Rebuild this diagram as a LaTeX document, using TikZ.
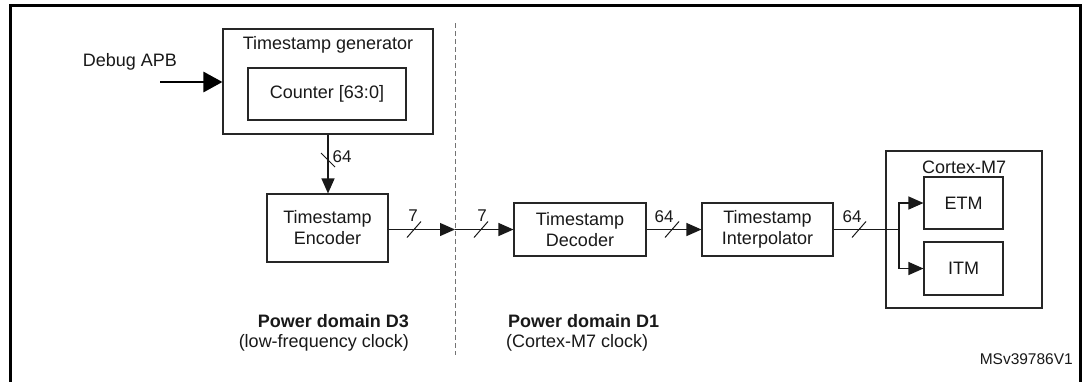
\documentclass[tikz,border=0pt]{standalone}
\usepackage{fontspec}
\setmainfont{Liberation Sans}
\usetikzlibrary{arrows.meta}
\begin{document}
\begin{tikzpicture}[x=1pt,y=-1pt,
  box/.style={draw=black!85, line width=1.1pt, inner sep=0pt, font=\fontsize{18}{21}\selectfont, align=center, text=black!90},
  conn/.style={line width=1.2pt, draw=black!90, -{Triangle[length=15pt,width=13pt]}},
  wire/.style={line width=1.2pt, draw=black!90},
  slashmark/.style={line width=1pt, draw=black!90},
  lbl/.style={font=\fontsize{17}{20}\selectfont, inner sep=0pt, text=black!90},
  txt/.style={font=\fontsize{18}{21}\selectfont, inner sep=0pt, text=black!90},
  boldtxt/.style={font=\fontsize{18}{21}\selectfont\bfseries, inner sep=0pt, text=black!90},
  divider/.style={draw=black!55, line width=1pt, dash pattern=on 5pt off 3pt},
]
\useasboundingbox (0,0) rectangle (1084,381);
\fill[white] (0,0) rectangle (1084,381);
% frame
\draw[line width=3pt, line join=miter] (10,383) -- (10,5) -- (1080,5) -- (1080,383);

% boxes
\node[box, minimum width=210pt, minimum height=105pt] (gen) at (328,81.5) {};
\node[txt] (gent) at (328,45) {Timestamp generator};
\node[box, minimum width=158pt, minimum height=52pt] (cnt) at (327,94) {Counter [63:0]};
\node[box, minimum width=121pt, minimum height=68pt] (enc) at (327.5,228) {Timestamp\\Encoder};
\node[box, minimum width=132pt, minimum height=53pt] (dec) at (580,229.5) {Timestamp\\Decoder};
\node[box, minimum width=131pt, minimum height=53pt] (itp) at (767.5,229.5) {Timestamp\\Interpolator};
\node[box, minimum width=156pt, minimum height=157pt] (cm7) at (964,229.5) {};
\node[txt] (cm7t) at (964,167) {Cortex-M7};
\node[box, minimum width=79pt, minimum height=52pt] (etm) at (963.5,203) {ETM};
\node[box, minimum width=79pt, minimum height=53pt] (itm) at (963.5,268.5) {ITM};

% debug APB
\node[txt] (dbg) at (130,62) {Debug APB};
\coordinate (dbgs) at (160,82);
\draw[line width=2.8pt, -{Triangle[length=19pt,width=20pt]}] (dbgs) -- (dbgs -| gen.west);

% divider
\coordinate (dtop) at (455,23);
\coordinate (dbot) at (455,355);
\draw[divider] (dtop) -- (dbot);

% connectors
\draw[conn] (gen.south) -- (gen.south |- enc.north);
\coordinate (jn) at (455,229.5);
\draw[conn] (enc.east |- jn) -- (jn);
\draw[conn] (jn) -- (jn -| dec.west);
\draw[conn] (dec.east) -- (itp.west);
\coordinate (br) at (899,229.5);
\draw[wire] (itp.east) -- (br);
\draw[conn] (br) |- (etm.west);
\draw[conn] (br) |- (itm.west);

% bus width marks
\coordinate (s0) at (328,160);
\coordinate (s1) at (414,229.5);
\coordinate (s2) at (481,229.5);
\coordinate (s3) at (672,229.5);
\coordinate (s4) at (859,229.5);
\draw[slashmark] ([shift={(-7,-7)}]s0) -- ([shift={(7,7)}]s0);
\foreach \s in {s1,s2,s3,s4}
  \draw[slashmark] ([shift={(-7,8)}]\s) -- ([shift={(7,-8)}]\s);
\node[lbl] (l0) at (342,157) {64};
\node[lbl] (l1) at (413,216) {7};
\node[lbl] (l2) at (482,216) {7};
\node[lbl] (l3) at (664,217) {64};
\node[lbl] (l4) at (852,217) {64};

% domain labels
\node[boldtxt, anchor=east] (d3) at (409,321) {Power domain D3};
\node[txt, anchor=east] (d3c) at (409,343) {(low-frequency clock)};
\node[boldtxt, anchor=west] (d1) at (508,321) {Power domain D1};
\node[txt, anchor=west] (d1c) at (506,343) {(Cortex-M7 clock)};
\node[txt, font=\fontsize{15.5}{18}\selectfont, anchor=east] (ms) at (1073,359) {MSv39786V1};
\end{tikzpicture}
\end{document}
